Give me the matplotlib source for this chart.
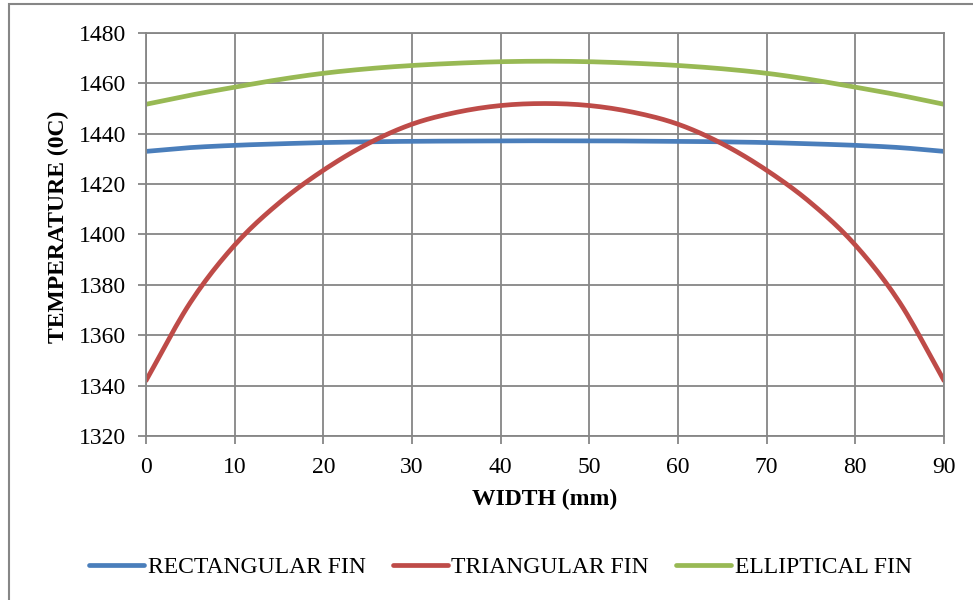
import numpy as np
import matplotlib
matplotlib.use("Agg")
from matplotlib import pyplot as plt
from matplotlib.patches import Rectangle

plt.rcParams['font.family'] = ['Liberation Serif', 'DejaVu Serif']

width_mm = [0, 5, 10, 15, 20, 25, 30, 35, 40, 45, 50, 55, 60, 65, 70, 75, 80, 85, 90]
rectangular_fin = [1433.0, 1434.5, 1435.4, 1436.0, 1436.5, 1436.8, 1437.0, 1437.1, 1437.2, 1437.2,
                   1437.2, 1437.1, 1437.0, 1436.8, 1436.5, 1436.0, 1435.4, 1434.5, 1433.0]
triangular_fin = [1342.0, 1373.0, 1395.8, 1412.5, 1425.5, 1436.0, 1443.8, 1448.5, 1451.2, 1452.0,
                  1451.2, 1448.5, 1443.8, 1436.0, 1425.5, 1412.5, 1395.8, 1373.0, 1342.0]
elliptical_fin = [1451.7, 1455.3, 1458.5, 1461.5, 1464.0, 1465.8, 1467.1, 1468.0, 1468.6, 1468.8,
                  1468.6, 1468.0, 1467.1, 1465.8, 1464.0, 1461.5, 1458.5, 1455.3, 1451.7]
series_names = ["RECTANGULAR FIN", "TRIANGULAR FIN", "ELLIPTICAL FIN"]
x_ticks = [0, 10, 20, 30, 40, 50, 60, 70, 80, 90]
y_ticks = [1320, 1340, 1360, 1380, 1400, 1420, 1440, 1460, 1480]

grey = "#868686"
colours = ["#4A7EBB", "#BE4B48", "#98B954"]


# smooth line through the points (Catmull-Rom, like Excel's "smoothed line")
def smooth(x, y, steps=12):
    p = np.column_stack([x, y]).astype(float)
    p = np.vstack([2 * p[0] - p[1], p, 2 * p[-1] - p[-2]])
    t = np.linspace(0, 1, steps, endpoint=False)[:, None]
    out = []
    for i in range(1, len(p) - 2):
        p0, p1, p2, p3 = p[i - 1], p[i], p[i + 1], p[i + 2]
        out.append(0.5 * (2 * p1 + (p2 - p0) * t + (2 * p0 - 5 * p1 + 4 * p2 - p3) * t ** 2
                          + (3 * p1 - p0 - 3 * p2 + p3) * t ** 3))
    out.append(p[-2][None, :])
    out = np.vstack(out)
    return out[:, 0], out[:, 1]


fig = plt.figure(figsize=(9.73, 6.0), dpi=100)
fig.patches.append(Rectangle((9 / 973, -0.1), 1.2, 1.1 - 4 / 600, transform=fig.transFigure,
                             fill=False, edgecolor=grey, linewidth=1.5))
ax = fig.add_axes([146 / 973, 1 - 436 / 600, (944 - 146) / 973, (436 - 33) / 600])

for values, name, colour in zip([rectangular_fin, triangular_fin, elliptical_fin], series_names, colours):
    xs, ys = smooth(width_mm, values)
    ax.plot(xs, ys, color=colour, linewidth=3.4, label=name, solid_capstyle="round")

ax.set_xlim(0, 90)
ax.set_ylim(1320, 1480)
ax.set_xticks(x_ticks)
ax.set_yticks(y_ticks)
ax.grid(True, color=grey, linewidth=1.3)
ax.set_axisbelow(True)
for spine in ax.spines.values():
    spine.set_color(grey)
    spine.set_linewidth(1.3)
ax.tick_params(axis="both", direction="out", length=6, width=1.3, color=grey, labelsize=17)
ax.tick_params(axis="y", pad=8.5)
ax.tick_params(axis="x", pad=9)

ax.set_xlabel("WIDTH (mm)", fontsize=17, fontweight="bold", va="center")
ax.xaxis.set_label_coords(0.5, (436 - 499) / 403)
ax.set_ylabel("TEMPERATURE (0C)", fontsize=17, fontweight="bold", va="center")
ax.yaxis.set_label_coords((58 - 146) / 798, 0.52)

ax.legend(loc="center", bbox_to_anchor=(500.5 / 973, 1 - 567 / 600), bbox_transform=fig.transFigure,
          ncol=3, frameon=False, fontsize=17, handlelength=2.33, handletextpad=0.15, columnspacing=1.15)

fig.savefig("out.png", dpi=100)
